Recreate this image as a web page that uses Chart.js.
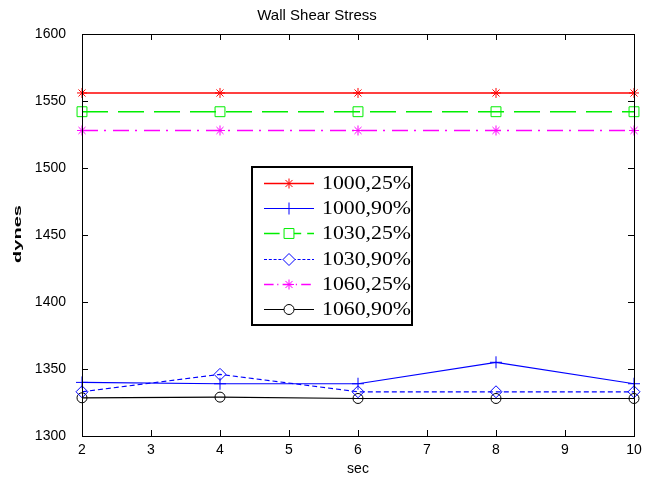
<!DOCTYPE html>
<html>
<head>
<meta charset="utf-8">
<script src="https://cdn.jsdelivr.net/npm/chart.js@4/dist/chart.umd.min.js"></script>
<style>
  html, body { margin: 0; padding: 0; background: #fff; }
  #wrap { width: 648px; height: 477px; }
</style>
</head>
<body>
<div id="wrap"><canvas id="wss"></canvas></div>
<script>
// x values (sec)
const secs = [2, 4, 6, 8, 10];
const yTicks = [1300, 1350, 1400, 1450, 1500, 1550, 1600];

// series
const s1000_25 = [1556, 1556, 1556, 1556, 1556];
const s1000_90 = [1340, 1339, 1339, 1355, 1339];
const s1030_25 = [1542, 1542, 1542, 1542, 1542];
const s1030_90 = [1333, 1346, 1333, 1333, 1333];
const s1060_25 = [1528, 1528, 1528, 1528, 1528];
const s1060_90 = [1328.5, 1329, 1328, 1328, 1328];

const seriesNames = ['1000,25%', '1000,90%', '1030,25%', '1030,90%', '1060,25%', '1060,90%'];

const toPts = (vals) => vals.map((v, i) => ({ x: secs[i], y: v }));

const mkSet = (label, vals, color, style, radius, dash, width) => ({
    label,
    data: toPts(vals),
    borderColor: color,
    backgroundColor: 'transparent',
    borderWidth: width,
    borderDash: dash,
    pointStyle: style,
    pointRadius: radius,
    pointHoverRadius: radius,
    pointBorderColor: color,
    pointBackgroundColor: 'transparent',
    pointBorderWidth: 1,
    tension: 0,
    clip: false
});

const datasets = [
    mkSet(seriesNames[0], s1000_25, '#ff0000', 'star', 5, [], 1.5),
    mkSet(seriesNames[1], s1000_90, '#0000ff', 'cross', 6, [], 1.2),
    mkSet(seriesNames[2], s1030_25, '#00ee00', 'rect', 7, [26, 10], 1.5),
    mkSet(seriesNames[3], s1030_90, '#0000ff', 'rectRot', 6, [5, 3], 1.2),
    mkSet(seriesNames[4], s1060_25, '#ff00ff', 'star', 5, [16, 6, 2, 7], 1.5),
    mkSet(seriesNames[5], s1060_90, '#000000', 'circle', 5, [], 1.2)
];

const sansFont = 'Liberation Sans, Arial, sans-serif';

// box, inward ticks, y label and legend (MATLAB style)
const matlabFrame = {
    id: 'matlabFrame',
    afterDraw(chart) {
        const ctx = chart.ctx;
        const { left, right, top, bottom } = chart.chartArea;
        const xs = chart.scales.x, ys = chart.scales.y;
        const tl = 6;

        ctx.save();
        ctx.strokeStyle = '#000';
        ctx.lineWidth = 1;
        ctx.strokeRect(Math.round(left) + 0.5, Math.round(top) + 0.5, Math.round(right - left), Math.round(bottom - top));

        ctx.beginPath();
        xs.ticks.forEach(t => {
            const px = Math.round(xs.getPixelForValue(t.value)) + 0.5;
            ctx.moveTo(px, bottom); ctx.lineTo(px, bottom - tl);
            ctx.moveTo(px, top); ctx.lineTo(px, top + tl);
        });
        ys.ticks.forEach(t => {
            const py = Math.round(ys.getPixelForValue(t.value)) + 0.5;
            ctx.moveTo(left, py); ctx.lineTo(left + tl, py);
            ctx.moveTo(right, py); ctx.lineTo(right - tl, py);
        });
        ctx.stroke();

        // squashed bold y label
        ctx.save();
        ctx.translate(18, 234);
        ctx.rotate(-Math.PI / 2);
        ctx.scale(2, 1);
        ctx.fillStyle = '#000';
        ctx.font = 'bold 10px ' + sansFont;
        ctx.textAlign = 'center';
        ctx.textBaseline = 'middle';
        ctx.fillText('dynes', 0, 0);
        ctx.restore();

        // legend box
        const bx = 252, by = 167, bw = 160, bh = 158;
        ctx.fillStyle = '#fff';
        ctx.fillRect(bx, by, bw, bh);
        ctx.lineWidth = 2;
        ctx.strokeStyle = '#000';
        ctx.strokeRect(bx, by, bw, bh);

        chart.data.datasets.forEach((ds, i) => {
            const y = Math.round(183 + i * 25.2) + 0.5;
            ctx.save();
            ctx.strokeStyle = ds.borderColor;
            ctx.lineWidth = ds.borderWidth;
            ctx.setLineDash(ds.borderDash.length ? ds.borderDash.map(d => d * 0.6) : []);
            ctx.beginPath();
            ctx.moveTo(264, y); ctx.lineTo(314, y);
            ctx.stroke();
            ctx.setLineDash([]);
            ctx.lineWidth = 1;
            Chart.helpers.drawPoint(ctx, {
                pointStyle: ds.pointStyle,
                radius: ds.pointRadius,
                borderWidth: 1,
                rotation: 0
            }, 289, y);
            ctx.restore();

            ctx.save();
            ctx.font = '19px Liberation Serif, Times New Roman, serif';
            ctx.fillStyle = '#000';
            ctx.textBaseline = 'middle';
            const w = ctx.measureText(ds.label).width;
            ctx.translate(322, y + 1);
            ctx.scale(89 / w, 1);
            ctx.fillText(ds.label, 0, 0);
            ctx.restore();
        });
        ctx.restore();
    }
};

new Chart(document.getElementById('wss'), {
    type: 'line',
    data: { datasets },
    plugins: [matlabFrame],
    options: {
        responsive: true,
        maintainAspectRatio: false,
        animation: false,
        layout: { padding: { left: 0, right: 14, top: 0, bottom: 0 } },
        plugins: {
            legend: { display: false },
            tooltip: { enabled: false },
            title: {
                display: true,
                text: 'Wall Shear Stress',
                color: '#000',
                font: { family: sansFont, size: 15, weight: 'normal' },
                padding: { top: 7, bottom: 9 }
            }
        },
        scales: {
            x: {
                type: 'linear',
                min: 2,
                max: 10,
                afterFit: (s) => { s.height = 41; },
                grid: { display: false },
                border: { display: false },
                ticks: {
                    stepSize: 1,
                    color: '#000',
                    padding: -2,
                    font: { family: sansFont, size: 14 }
                },
                title: {
                    display: true,
                    text: 'sec',
                    color: '#000',
                    font: { family: sansFont, size: 14 },
                    padding: { top: 0, bottom: -1 }
                }
            },
            y: {
                min: yTicks[0],
                max: yTicks[yTicks.length - 1],
                afterFit: (s) => { s.width = 82; },
                afterBuildTicks: (s) => { s.ticks = yTicks.map(v => ({ value: v })); },
                grid: { display: false },
                border: { display: false },
                ticks: {
                    color: '#000',
                    padding: 8,
                    font: { family: sansFont, size: 14 },
                    callback: (v) => String(v)
                }
            }
        }
    }
});
</script>
</body>
</html>
